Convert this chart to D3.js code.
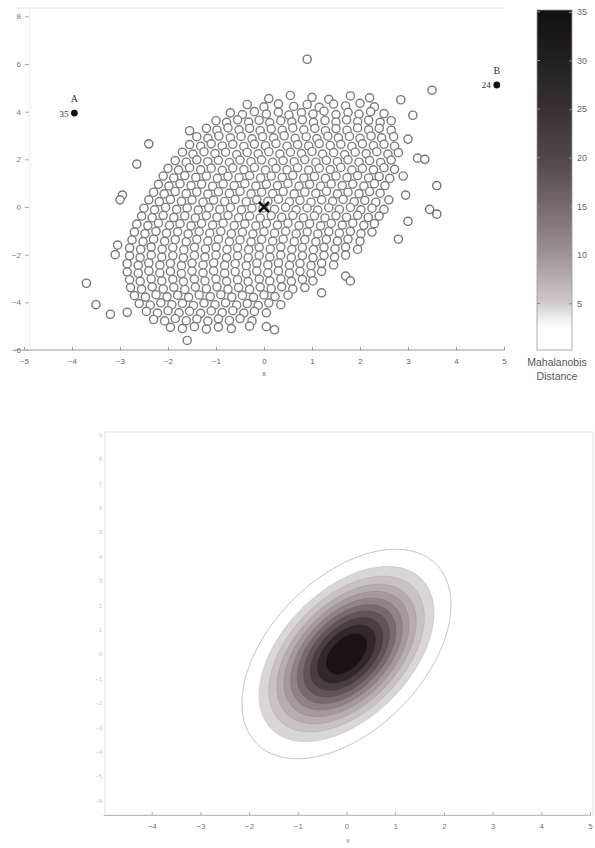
<!DOCTYPE html>
<html>
<head>
<meta charset="utf-8">
<script src="https://cdn.jsdelivr.net/npm/d3@7"></script>
<style>
body { margin: 0; background: #fff; }
text { font-family: "Liberation Sans", Arial, sans-serif; }
</style>
</head>
<body>
<div id="chart-area"></div>
<script>

var width = 595,
    height = 848;

// scatter sample (x, y)
var points = [
  [0.1,4.55],[0.55,4.68],[1.0,4.6],[1.35,4.52],[1.8,4.66],[2.2,4.58],[2.85,4.5],
  [-0.35,4.3],[0.0,4.2],[0.3,4.33],[0.62,4.22],[0.9,4.3],[1.15,4.18],[1.45,4.32],[1.7,4.24],[2.0,4.35],[2.3,4.2],
  [-0.7,3.95],[-0.45,3.88],[-0.2,4.0],[0.05,3.9],[0.3,3.98],[0.52,3.86],[0.78,3.96],[1.02,3.9],[1.25,4.02],[1.5,3.88],[1.75,3.97],[1.98,3.9],[2.22,4.0],[2.5,3.92],[3.1,3.85],
  [-1.0,3.62],[-0.78,3.55],[-0.55,3.66],[-0.32,3.56],[-0.1,3.64],[0.12,3.54],[0.35,3.62],[0.58,3.57],[0.8,3.66],[1.03,3.55],[1.27,3.63],[1.5,3.56],[1.72,3.66],[1.95,3.58],[2.18,3.64],[2.42,3.55],[2.65,3.62],
  [-1.55,3.2],[-1.2,3.3],[-0.98,3.22],[-0.75,3.32],[-0.52,3.24],[-0.3,3.3],[-0.08,3.2],[0.15,3.28],[0.38,3.22],[0.6,3.32],[0.83,3.24],[1.06,3.3],[1.28,3.2],[1.5,3.29],[1.73,3.22],[1.95,3.32],[2.18,3.24],[2.4,3.3],[2.65,3.22],
  [-1.4,2.95],[-1.17,2.88],[-0.94,2.98],[-0.7,2.9],[-0.48,2.96],[-0.25,2.86],[-0.03,2.95],[0.2,2.9],[0.42,2.99],[0.65,2.88],[0.88,2.95],[1.1,2.87],[1.33,2.97],[1.55,2.9],[1.78,2.96],[2.0,2.88],[2.23,2.98],[2.45,2.9],[2.7,2.95],[3.0,2.85],
  [-2.4,2.65],[-1.55,2.62],[-1.32,2.55],[-1.1,2.65],[-0.87,2.56],[-0.65,2.63],[-0.42,2.54],[-0.2,2.64],[0.03,2.57],[0.25,2.66],[0.48,2.55],[0.7,2.62],[0.93,2.56],[1.15,2.66],[1.38,2.58],[1.6,2.63],[1.83,2.54],[2.05,2.65],[2.28,2.57],[2.5,2.63],[2.72,2.55],
  [-1.7,2.3],[-1.48,2.22],[-1.25,2.32],[-1.02,2.24],[-0.8,2.3],[-0.57,2.2],[-0.35,2.29],[-0.12,2.23],[0.1,2.32],[0.33,2.22],[0.55,2.3],[0.78,2.24],[1.0,2.33],[1.22,2.22],[1.45,2.28],[1.68,2.2],[1.9,2.3],[2.13,2.24],[2.35,2.32],[2.58,2.22],[2.8,2.28],[3.2,2.05],
  [-2.65,1.8],[-1.85,1.95],[-1.62,1.88],[-1.4,1.98],[-1.17,1.9],[-0.95,1.96],[-0.72,1.87],[-0.5,1.97],[-0.27,1.9],[-0.05,1.98],[0.18,1.88],[0.4,1.95],[0.63,1.9],[0.85,1.99],[1.08,1.88],[1.3,1.96],[1.53,1.9],[1.75,1.98],[1.98,1.88],[2.2,1.95],[2.43,1.87],[2.65,1.97],[3.35,2.0],
  [-2.0,1.62],[-1.78,1.55],[-1.55,1.65],[-1.32,1.56],[-1.1,1.63],[-0.87,1.54],[-0.65,1.64],[-0.42,1.57],[-0.2,1.66],[0.03,1.55],[0.25,1.62],[0.48,1.56],[0.7,1.65],[0.93,1.55],[1.15,1.63],[1.38,1.57],[1.6,1.66],[1.83,1.55],[2.05,1.62],[2.28,1.56],[2.5,1.65],[2.72,1.58],
  [-2.1,1.3],[-1.88,1.22],[-1.65,1.32],[-1.42,1.24],[-1.2,1.3],[-0.97,1.2],[-0.75,1.29],[-0.52,1.23],[-0.3,1.32],[-0.07,1.22],[0.15,1.3],[0.38,1.24],[0.6,1.33],[0.83,1.22],[1.05,1.28],[1.28,1.2],[1.5,1.3],[1.73,1.24],[1.95,1.32],[2.18,1.22],[2.4,1.28],[2.62,1.2],[2.9,1.3],
  [-2.2,0.95],[-1.98,0.88],[-1.75,0.98],[-1.52,0.9],[-1.3,0.96],[-1.07,0.87],[-0.85,0.97],[-0.62,0.9],[-0.4,0.98],[-0.17,0.88],[0.05,0.95],[0.28,0.9],[0.5,0.99],[0.73,0.88],[0.95,0.95],[1.18,0.87],[1.4,0.97],[1.63,0.9],[1.85,0.96],[2.08,0.88],[2.3,0.98],[2.52,0.9],[3.6,0.9],
  [-2.95,0.5],[-2.3,0.62],[-2.08,0.55],[-1.85,0.65],[-1.62,0.56],[-1.4,0.63],[-1.17,0.54],[-0.95,0.64],[-0.72,0.57],[-0.5,0.66],[-0.27,0.55],[-0.05,0.62],[0.18,0.56],[0.4,0.65],[0.63,0.55],[0.85,0.63],[1.08,0.57],[1.3,0.66],[1.53,0.55],[1.75,0.62],[1.98,0.56],[2.2,0.65],[2.42,0.58],[2.95,0.5],
  [-3.0,0.3],[-2.4,0.3],[-2.18,0.22],[-1.95,0.32],[-1.72,0.24],[-1.5,0.3],[-1.27,0.2],[-1.05,0.29],[-0.82,0.23],[-0.6,0.32],[-0.37,0.22],[-0.15,0.3],[0.08,0.24],[0.3,0.33],[0.53,0.22],[0.75,0.28],[0.98,0.2],[1.2,0.3],[1.43,0.24],[1.65,0.32],[1.88,0.22],[2.1,0.28],[2.33,0.2],[2.6,0.3],
  [-2.5,-0.05],[-2.28,-0.12],[-2.05,-0.02],[-1.82,-0.1],[-1.6,-0.04],[-1.37,-0.13],[-1.15,-0.03],[-0.92,-0.1],[-0.7,-0.02],[-0.47,-0.12],[-0.25,-0.05],[-0.02,-0.04],[0.22,-0.1],[0.45,-0.01],[0.67,-0.12],[0.9,-0.04],[1.12,-0.13],[1.35,-0.03],[1.57,-0.1],[1.8,-0.02],[2.02,-0.12],[2.25,-0.05],[2.5,-0.1],[3.45,-0.1],
  [-2.55,-0.38],[-2.33,-0.45],[-2.1,-0.35],[-1.88,-0.44],[-1.65,-0.37],[-1.43,-0.46],[-1.2,-0.36],[-0.98,-0.43],[-0.75,-0.35],[-0.53,-0.45],[-0.3,-0.38],[-0.08,-0.46],[0.15,-0.36],[0.37,-0.43],[0.6,-0.35],[0.82,-0.45],[1.05,-0.37],[1.27,-0.46],[1.5,-0.36],[1.72,-0.43],[1.95,-0.35],[2.17,-0.44],[2.4,-0.38],[3.6,-0.3],
  [-2.65,-0.72],[-2.42,-0.78],[-2.2,-0.68],[-1.97,-0.77],[-1.75,-0.7],[-1.52,-0.79],[-1.3,-0.69],[-1.07,-0.76],[-0.85,-0.68],[-0.62,-0.78],[-0.4,-0.71],[-0.17,-0.79],[0.05,-0.69],[0.28,-0.76],[0.5,-0.68],[0.73,-0.78],[0.95,-0.7],[1.18,-0.79],[1.4,-0.69],[1.63,-0.76],[1.85,-0.68],[2.08,-0.77],[2.3,-0.7],[3.0,-0.6],
  [-2.7,-1.05],[-2.48,-1.12],[-2.25,-1.02],[-2.03,-1.1],[-1.8,-1.04],[-1.58,-1.13],[-1.35,-1.03],[-1.13,-1.1],[-0.9,-1.02],[-0.68,-1.12],[-0.45,-1.05],[-0.23,-1.13],[0.0,-1.03],[0.22,-1.1],[0.45,-1.02],[0.67,-1.12],[0.9,-1.04],[1.12,-1.13],[1.35,-1.03],[1.57,-1.1],[1.8,-1.02],[2.02,-1.12],[2.25,-1.05],[2.8,-1.35],
  [-3.05,-1.6],[-2.75,-1.38],[-2.52,-1.45],[-2.3,-1.35],[-2.07,-1.44],[-1.85,-1.37],[-1.62,-1.46],[-1.4,-1.36],[-1.17,-1.43],[-0.95,-1.35],[-0.72,-1.45],[-0.5,-1.38],[-0.27,-1.46],[-0.05,-1.36],[0.18,-1.43],[0.4,-1.35],[0.63,-1.45],[0.85,-1.37],[1.08,-1.46],[1.3,-1.36],[1.53,-1.43],[1.75,-1.35],[2.0,-1.44],
  [-2.8,-1.72],[-2.57,-1.78],[-2.35,-1.68],[-2.12,-1.77],[-1.9,-1.7],[-1.67,-1.79],[-1.45,-1.69],[-1.22,-1.76],[-1.0,-1.68],[-0.77,-1.78],[-0.55,-1.71],[-0.32,-1.79],[-0.1,-1.69],[0.13,-1.76],[0.35,-1.68],[0.58,-1.78],[0.8,-1.7],[1.03,-1.79],[1.25,-1.69],[1.48,-1.76],[1.7,-1.68],[1.95,-1.78],
  [-3.1,-2.0],[-2.8,-2.05],[-2.58,-2.12],[-2.35,-2.02],[-2.13,-2.1],[-1.9,-2.04],[-1.68,-2.13],[-1.45,-2.03],[-1.23,-2.1],[-1.0,-2.02],[-0.78,-2.12],[-0.55,-2.05],[-0.33,-2.13],[-0.1,-2.03],[0.12,-2.1],[0.35,-2.02],[0.57,-2.12],[0.8,-2.04],[1.02,-2.13],[1.25,-2.03],[1.47,-2.1],[1.7,-2.02],
  [-2.85,-2.38],[-2.62,-2.45],[-2.4,-2.35],[-2.17,-2.44],[-1.95,-2.37],[-1.72,-2.46],[-1.5,-2.36],[-1.27,-2.43],[-1.05,-2.35],[-0.82,-2.45],[-0.6,-2.38],[-0.37,-2.46],[-0.15,-2.36],[0.08,-2.43],[0.3,-2.35],[0.53,-2.45],[0.75,-2.37],[0.98,-2.46],[1.2,-2.36],[1.45,-2.43],
  [-2.85,-2.72],[-2.62,-2.78],[-2.4,-2.68],[-2.17,-2.77],[-1.95,-2.7],[-1.72,-2.79],[-1.5,-2.69],[-1.27,-2.76],[-1.05,-2.68],[-0.82,-2.78],[-0.6,-2.71],[-0.37,-2.79],[-0.15,-2.69],[0.08,-2.76],[0.3,-2.68],[0.53,-2.78],[0.75,-2.7],[0.98,-2.79],[1.2,-2.7],[1.7,-2.9],
  [-3.7,-3.2],[-2.8,-3.05],[-2.58,-3.12],[-2.35,-3.02],[-2.13,-3.1],[-1.9,-3.04],[-1.68,-3.13],[-1.45,-3.03],[-1.23,-3.1],[-1.0,-3.02],[-0.78,-3.12],[-0.55,-3.05],[-0.33,-3.13],[-0.1,-3.03],[0.12,-3.1],[0.35,-3.02],[0.57,-3.12],[0.8,-3.04],[1.02,-3.1],[1.8,-3.1],
  [-2.78,-3.38],[-2.55,-3.45],[-2.33,-3.35],[-2.1,-3.44],[-1.88,-3.37],[-1.65,-3.46],[-1.43,-3.36],[-1.2,-3.43],[-0.98,-3.35],[-0.75,-3.45],[-0.53,-3.38],[-0.3,-3.46],[-0.08,-3.36],[0.15,-3.43],[0.37,-3.35],[0.6,-3.45],[0.85,-3.38],
  [-2.7,-3.72],[-2.47,-3.78],[-2.25,-3.68],[-2.02,-3.77],[-1.8,-3.7],[-1.57,-3.79],[-1.35,-3.69],[-1.12,-3.76],[-0.9,-3.68],[-0.67,-3.78],[-0.45,-3.71],[-0.22,-3.79],[0.0,-3.69],[0.23,-3.76],[0.5,-3.7],[1.2,-3.6],
  [-3.5,-4.1],[-2.6,-4.05],[-2.37,-4.12],[-2.15,-4.02],[-1.92,-4.1],[-1.7,-4.04],[-1.47,-4.13],[-1.25,-4.03],[-1.02,-4.1],[-0.8,-4.02],[-0.57,-4.12],[-0.35,-4.05],[-0.12,-4.13],[0.1,-4.03],[0.35,-4.1],
  [-3.2,-4.5],[-2.85,-4.42],[-2.45,-4.38],[-2.22,-4.45],[-2.0,-4.35],[-1.77,-4.44],[-1.55,-4.37],[-1.32,-4.46],[-1.1,-4.36],[-0.87,-4.43],[-0.65,-4.35],[-0.42,-4.45],[-0.2,-4.38],[0.05,-4.44],
  [-2.3,-4.72],[-2.07,-4.78],[-1.85,-4.68],[-1.62,-4.77],[-1.4,-4.7],[-1.17,-4.79],[-0.95,-4.69],[-0.72,-4.76],[-0.5,-4.68],[-0.25,-4.78],
  [-1.95,-5.05],[-1.7,-5.1],[-1.45,-5.02],[-1.2,-5.12],[-0.95,-5.04],[-0.68,-5.1],[-0.3,-5.0],[0.05,-5.02],[0.22,-5.15],
  [-1.6,-5.6],[0.9,6.2],[3.5,4.9]
];

// labelled outliers with their Mahalanobis distance
var outliers = [
  { name: "A", x: -3.95, y: 3.94, dist: 35 },
  { name: "B", x: 4.85, y: 5.12, dist: 24 }
];

// sample mean and spread
var meanX = 0, meanY = 0, sdX = 1, sdY = 2, rho = 0.47;

var xTickValues = [-5, -4, -3, -2, -1, 0, 1, 2, 3, 4, 5];
var yTickValues = [-6, -4, -2, 0, 2, 4, 6, 8];
var colorbarTicks = [5, 10, 15, 20, 25, 30, 35];
var xTickBottom = [-4, -3, -2, -1, 0, 1, 2, 3, 4, 5];
var yTickBottom = [-6, -5, -4, -3, -2, -1, 0, 1, 2, 3, 4, 5, 6, 7, 8, 9];

// density levels (fraction of peak) for the lower panel
var contourLevels = [0.1, 0.2, 0.28, 0.36, 0.44, 0.52, 0.6, 0.68, 0.76, 0.84, 0.92];

var svg = d3.select("#chart-area").append("svg")
    .attr("width", width)
    .attr("height", height);

function mahal(x, y) {
  var zx = (x - meanX) / sdX, zy = (y - meanY) / sdY;
  return (zx * zx - 2 * rho * zx * zy + zy * zy) / (1 - rho * rho);
}

// ---------- TOP PANEL ----------
var xTop = d3.scaleLinear().domain([-5, 5]).range([24, 504]);
var yTop = d3.scaleLinear().domain([-6, 8.35]).range([350, 8]);

var topPanel = svg.append("g");

// faint frame
topPanel.append("line").attr("x1", 15).attr("x2", 505).attr("y1", 8).attr("y2", 8)
    .style("stroke", "#e4e4e4");
topPanel.append("line").attr("x1", 15).attr("x2", 505).attr("y1", 350).attr("y2", 350)
    .style("stroke", "#999");

var xAxisTop = topPanel.append("g")
    .attr("transform", "translate(0,350)")
    .call(d3.axisBottom(xTop).tickValues(xTickValues).tickSize(-3).tickSizeOuter(0).tickPadding(8));
xAxisTop.select(".domain").remove();
xAxisTop.selectAll("line").style("stroke", "#999");
xAxisTop.selectAll("text").style("font-size", "8px").style("fill", "#666");

var yAxisTop = topPanel.append("g")
    .attr("transform", "translate(29,0)")
    .call(d3.axisLeft(yTop).tickValues(yTickValues).tickSize(4).tickSizeOuter(0).tickPadding(4));
yAxisTop.select(".domain").style("stroke", "#eee");
yAxisTop.selectAll("line").style("stroke", "#aaa");
yAxisTop.selectAll("text").style("font-size", "8px").style("fill", "#777");

topPanel.append("text").attr("x", 264).attr("y", 376).attr("text-anchor", "middle")
    .style("font-size", "8px").style("fill", "#666").text("x");

var strokeShade = d3.scaleLinear().domain([0, 20]).range(["#858585", "#6a6a6a"]).clamp(true);

topPanel.selectAll(".pt")
    .data(points)
    .enter()
    .append("circle")
    .attr("class", "pt")
    .attr("cx", d => xTop(d[0]))
    .attr("cy", d => yTop(d[1]))
    .attr("r", 4.1)
    .style("fill", "#fff")
    .style("stroke", d => strokeShade(mahal(d[0], d[1])))
    .style("stroke-width", 1.4);

// mean marker
var cx = xTop(meanX), cy = yTop(meanY);
topPanel.append("path")
    .attr("d", "M" + (cx - 5) + "," + (cy - 5) + "L" + (cx + 5) + "," + (cy + 5) +
               "M" + (cx + 5) + "," + (cy - 5) + "L" + (cx - 5) + "," + (cy + 5))
    .style("stroke", "#111").style("stroke-width", 2.6);

// outliers
var out = topPanel.selectAll(".out").data(outliers).enter().append("g").attr("class", "out");
out.append("circle")
    .attr("cx", d => xTop(d.x)).attr("cy", d => yTop(d.y)).attr("r", 3.4)
    .style("fill", "#111");
out.append("text")
    .attr("x", d => xTop(d.x)).attr("y", d => yTop(d.y) - 11)
    .attr("text-anchor", "middle")
    .style("font-family", "Liberation Serif, serif").style("font-size", "10px").style("fill", "#333")
    .text(d => d.name);
out.append("text")
    .attr("x", d => xTop(d.x) - 6).attr("y", d => yTop(d.y) + 3.5)
    .attr("text-anchor", "end")
    .style("font-family", "Liberation Serif, serif").style("font-size", "9px").style("fill", "#333")
    .text(d => d.dist);

// colorbar
var cbScale = d3.scaleLinear().domain([0.2, 35.2]).range([350, 10]);
var cbColor = d3.scaleLinear()
    .domain([0, 2.5, 5, 10, 15, 20, 25, 30, 35])
    .range(["#ffffff", "#ffffff", "#cdc7cb", "#9b9298", "#72686e", "#4e464b", "#363034", "#221e21", "#121012"]);

var grad = svg.append("defs").append("linearGradient")
    .attr("id", "cbgrad").attr("x1", 0).attr("x2", 0).attr("y1", 1).attr("y2", 0);
grad.selectAll("stop")
    .data(d3.range(0, 36, 1))
    .enter().append("stop")
    .attr("offset", d => (d / 35))
    .attr("stop-color", d => cbColor(d));

topPanel.append("rect")
    .attr("x", 537).attr("y", 10).attr("width", 35).attr("height", 340)
    .style("fill", "url(#cbgrad)").style("stroke", "#999").style("stroke-width", 0.8);

var cbAxis = topPanel.append("g")
    .attr("transform", "translate(572,0)")
    .call(d3.axisRight(cbScale).tickValues(colorbarTicks).tickSize(-3).tickSizeOuter(0).tickPadding(5));
cbAxis.select(".domain").remove();
cbAxis.selectAll("line").style("stroke", "#888");
cbAxis.selectAll("text").style("font-size", "9px").style("fill", "#666");
topPanel.selectAll(".cbl").data(colorbarTicks).enter().append("line")
    .attr("x1", 537).attr("x2", 540).attr("y1", d => cbScale(d)).attr("y2", d => cbScale(d))
    .style("stroke", "#888");

topPanel.append("text").attr("x", 557).attr("y", 366).attr("text-anchor", "middle")
    .style("font-size", "10.5px").style("fill", "#555").text("Mahalanobis");
topPanel.append("text").attr("x", 557).attr("y", 380).attr("text-anchor", "middle")
    .style("font-size", "10.5px").style("fill", "#555").text("Distance");

// ---------- BOTTOM PANEL ----------
var left = 103, right = 590, ptop = 432, pbottom = 815;
var xB = d3.scaleLinear().domain([-5, 5]).range([left, right]);
var yB = d3.scaleLinear().domain([-6.6, 9.1]).range([pbottom, ptop]);

var bot = svg.append("g");

bot.append("rect")
    .attr("x", left + 2).attr("y", ptop).attr("width", right + 3 - left - 2).attr("height", pbottom - ptop)
    .style("fill", "none").style("stroke", "#e2e2e2");

// density surface on a pixel grid
var gw = right - left, gh = pbottom - ptop;
var values = new Array(gw * gh);
for (var j = 0; j < gh; j++) {
  for (var i = 0; i < gw; i++) {
    var gx = xB.invert(left + i + 0.5), gy = yB.invert(ptop + j + 0.5);
    values[j * gw + i] = Math.exp(-mahal(gx, gy) / 2);
  }
}
var contours = d3.contours().size([gw, gh]).thresholds(contourLevels)(values);

var bandColor = d3.scaleLinear()
    .domain([0.2, 0.45, 0.7, 0.92])
    .range(["#d9d5d8", "#a3979f", "#5a4e56", "#1a1217"]);

bot.append("g")
    .attr("transform", "translate(" + left + "," + ptop + ")")
    .selectAll("path")
    .data(contours)
    .enter().append("path")
    .attr("d", d3.geoPath())
    .style("fill", d => d.value < 0.15 ? "#fff" : bandColor(d.value))
    .style("stroke", d => d.value < 0.15 ? "#aaa" : d3.color(bandColor(d.value)).darker(0.25))
    .style("stroke-width", 0.8);

var xAxisB = bot.append("g")
    .attr("transform", "translate(0," + pbottom + ")")
    .call(d3.axisBottom(xB).tickValues(xTickBottom).tickSize(-3).tickSizeOuter(0).tickPadding(8));
xAxisB.select(".domain").style("stroke", "#bbb");
xAxisB.selectAll("line").style("stroke", "#aaa");
xAxisB.selectAll("text").style("font-size", "8px").style("fill", "#777");

var yAxisB = bot.append("g")
    .attr("transform", "translate(" + (left + 2) + ",0)")
    .call(d3.axisLeft(yB).tickValues(yTickBottom).tickSize(0).tickPadding(3));
yAxisB.select(".domain").remove();
yAxisB.selectAll("text").style("font-size", "6px").style("fill", "#c4c4c4");

bot.append("text").attr("x", 348).attr("y", 843).attr("text-anchor", "middle")
    .style("font-size", "7px").style("fill", "#888").text("x");

</script>
</body>
</html>
